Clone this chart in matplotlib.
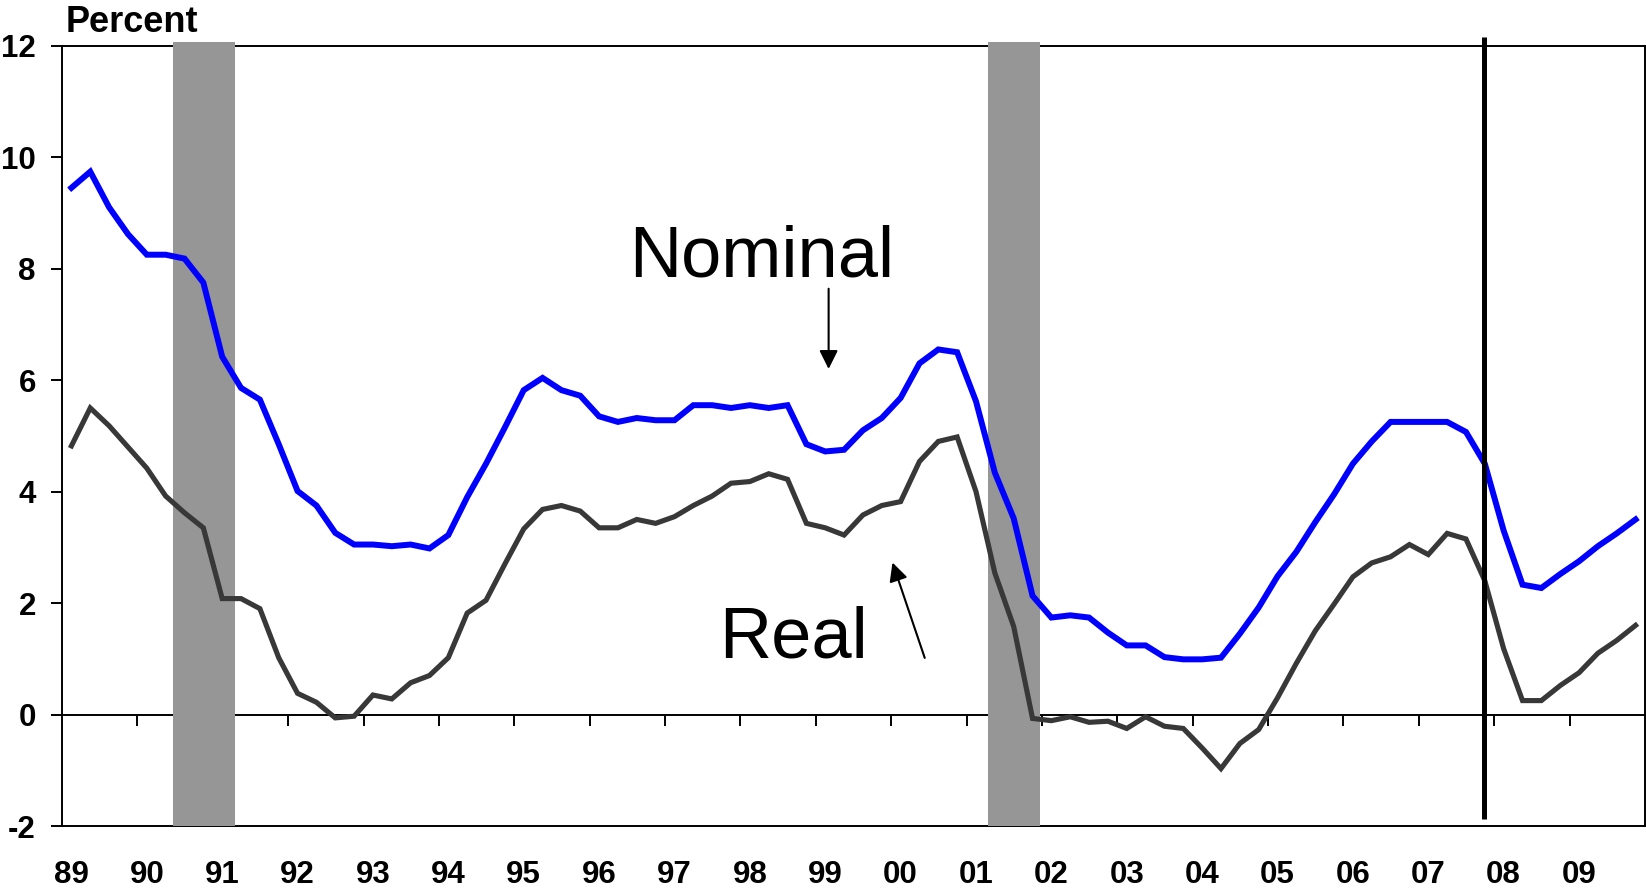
import numpy as np
import matplotlib
matplotlib.use("Agg")
import matplotlib.pyplot as plt

plt.rcParams['font.family'] = ['Liberation Sans', 'DejaVu Sans']

# ---- data (quarterly, 1989Q1 .. 2009Q4) ----
start_year = 1989
n_quarters = 84
nominal = [9.45, 9.74, 9.10, 8.62, 8.25, 8.25, 8.18, 7.75,
           6.42, 5.86, 5.65, 4.85, 4.01, 3.75, 3.26, 3.05,
           3.05, 3.02, 3.05, 2.98, 3.22, 3.90, 4.50, 5.15,
           5.82, 6.04, 5.82, 5.72, 5.35, 5.25, 5.32, 5.28,
           5.28, 5.55, 5.55, 5.50, 5.55, 5.50, 5.55, 4.85,
           4.72, 4.75, 5.10, 5.32, 5.68, 6.30, 6.55, 6.50,
           5.62, 4.34, 3.52, 2.13, 1.74, 1.78, 1.74, 1.47,
           1.24, 1.24, 1.03, 0.99, 0.99, 1.02, 1.45, 1.92,
           2.48, 2.92, 3.45, 3.95, 4.50, 4.90, 5.25, 5.25,
           5.25, 5.25, 5.07, 4.50, 3.30, 2.33, 2.27, 2.52,
           2.75, 3.02, 3.25, 3.50]
real = [4.82, 5.50, 5.18, 4.80, 4.42, 3.92, 3.62, 3.35,
        2.08, 2.08, 1.90, 1.02, 0.38, 0.22, -0.06, -0.03,
        0.35, 0.28, 0.57, 0.70, 1.02, 1.82, 2.05, 2.70,
        3.33, 3.68, 3.75, 3.65, 3.35, 3.35, 3.50, 3.43,
        3.55, 3.75, 3.92, 4.15, 4.18, 4.32, 4.22, 3.43,
        3.35, 3.22, 3.58, 3.75, 3.82, 4.54, 4.90, 4.98,
        4.00, 2.54, 1.58, -0.07, -0.11, -0.04, -0.14, -0.12,
        -0.25, -0.04, -0.21, -0.25, -0.60, -0.97, -0.52, -0.27,
        0.30, 0.92, 1.50, 1.98, 2.47, 2.72, 2.83, 3.05,
        2.87, 3.25, 3.15, 2.40, 1.18, 0.25, 0.25, 0.52,
        0.75, 1.10, 1.33, 1.60]
year_labels = ['89', '90', '91', '92', '93', '94', '95', '96', '97', '98',
               '99', '00', '01', '02', '03', '04', '05', '06', '07', '08', '09']
y_ticks = [-2, 0, 2, 4, 6, 8, 10, 12]
recessions = [(1990.47, 1991.29), (2001.29, 2001.97)]
marker_date = 2007.86

x = start_year + np.arange(n_quarters) / 4 + 0.125
label_pos = start_year + np.arange(len(year_labels)) + 0.125
tick_years = np.arange(start_year + 1, start_year + len(year_labels))

fig = plt.figure(figsize=(16.46, 8.93), dpi=100)
ax = fig.add_axes([62 / 1646, 1 - 826 / 893, (1645 - 62) / 1646, (826 - 45.7) / 893])

ax.set_xlim(start_year, start_year + len(year_labels))
ax.set_ylim(-2, 12)

for a, b in recessions:
    ax.axvspan(a, b, ymin=0, ymax=1.005, color='#969696', lw=0, zorder=1, clip_on=False)

ax.plot(x, nominal, color='#0000FF', lw=4.3, zorder=3, solid_joinstyle='miter')
ax.plot(x, real, color='#383838', lw=3.7, zorder=3, solid_joinstyle='miter')

ax.plot([marker_date, marker_date], [-1.87, 12.16], color='black', lw=3.6,
        zorder=5, clip_on=False, solid_capstyle='butt')

# zero line with year ticks
sec = ax.secondary_xaxis(2 / 14)
sec.set_xticks(tick_years)
sec.set_xticklabels([])
sec.tick_params(axis='x', direction='out', length=7.9, width=1.4, color='black')
sec.spines['bottom'].set_linewidth(1.4)
sec.spines['bottom'].set_zorder(4)

ax.set_xticks(label_pos)
ax.set_xticklabels(year_labels, fontsize=22.5, fontweight='bold')
ax.tick_params(axis='x', length=0, pad=24.5)
ax.set_yticks(y_ticks)
ax.set_yticklabels([str(v) for v in y_ticks], fontsize=22.5, fontweight='bold')
ax.tick_params(axis='y', direction='out', length=7.9, width=1.4, pad=11)

for s in ax.spines.values():
    s.set_linewidth(1.4)
    s.set_zorder(0.5)

ax.text(1998.28, 7.856, 'Nominal', fontsize=52, ha='center', va='baseline', zorder=6)
ax.text(1998.71, 1.016, 'Real', fontsize=52, ha='center', va='baseline', zorder=6)
ax.annotate('', xy=(1999.17, 6.20), xytext=(1999.17, 7.64),
            arrowprops=dict(arrowstyle='-|>', color='black', lw=1.5,
                            mutation_scale=28, shrinkA=0, shrinkB=0))
ax.annotate('', xy=(2000.017, 2.727), xytext=(2000.445, 1.016),
            arrowprops=dict(arrowstyle='-|>', color='black', lw=1.5,
                            mutation_scale=28, shrinkA=0, shrinkB=0))

fig.text(66 / 1646, 1 - 32.3 / 893, 'Percent', fontsize=26, fontweight='bold',
         ha='left', va='baseline')

fig.savefig('out.png', dpi=100)
